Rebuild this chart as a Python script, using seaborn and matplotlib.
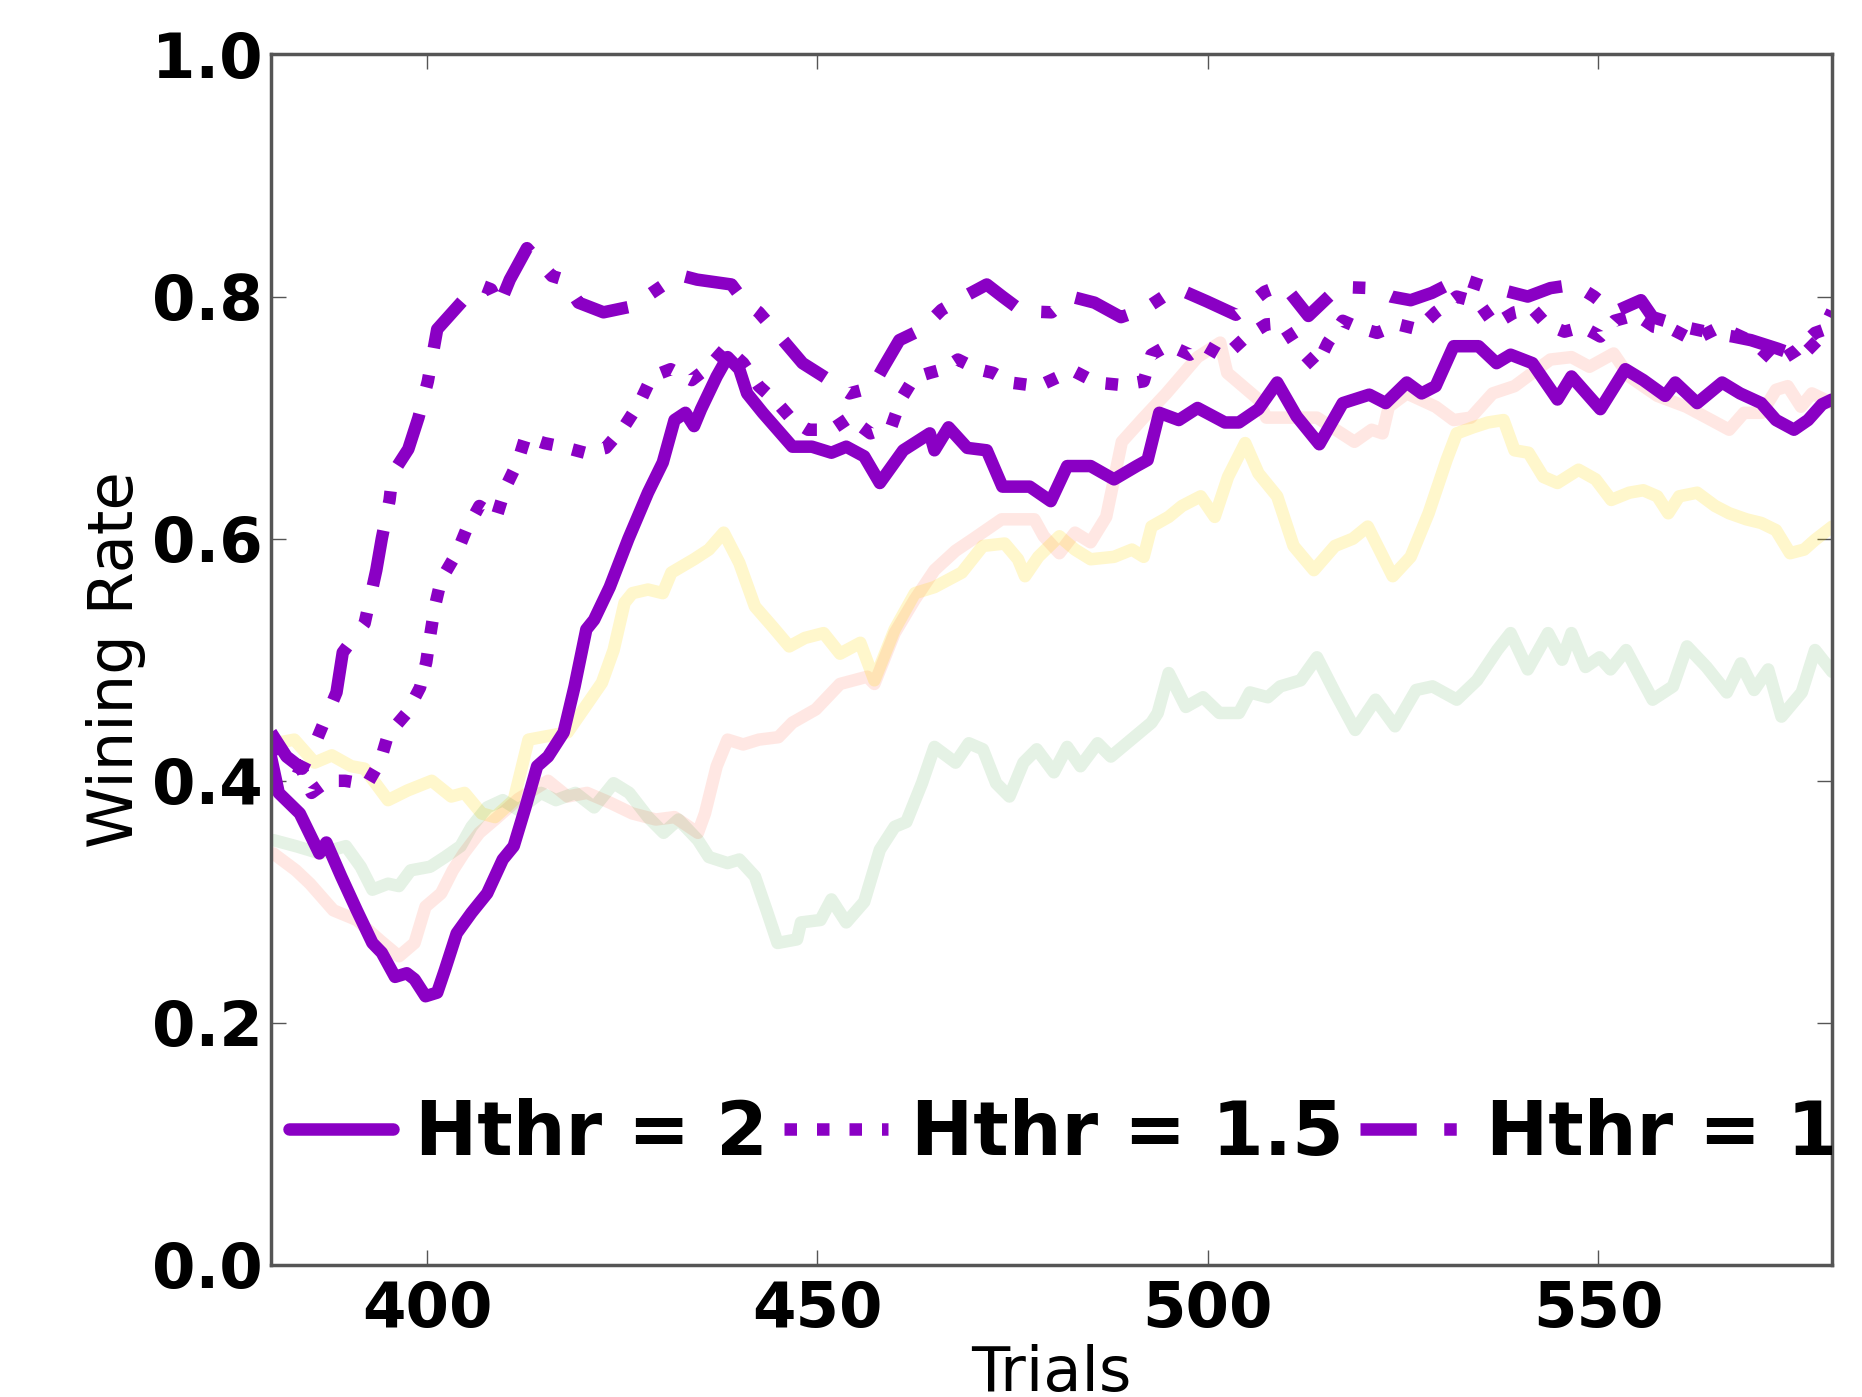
import matplotlib
matplotlib.use("Agg")
import matplotlib.pyplot as plt
import seaborn as sns

# Hthr = 2 (solid)
trials_h2 = [380, 381, 383.7, 386.2, 387.1, 389, 391, 393, 394.2, 395.9, 397.4, 398.4, 399.8, 401.3,
             402.3, 403.8, 405.7, 407.7, 409.7, 411.1, 412.6, 414.1, 415.5, 417.5, 418.9, 420.4, 421.4,
             423.4, 425.8, 428.3, 430.2, 431.7, 433.1, 434.2, 435.1, 437.1, 438.5, 440, 441, 443, 444.9,
             446.8, 449.3, 451.8, 453.7, 456, 458, 461, 464.4, 465, 466.8, 469.2, 471.7, 473.7, 477.2,
             479.9, 482, 485, 488, 490.9, 492.3, 493.8, 496.3, 498.7, 502.2, 504, 506.5, 508.9, 511.4,
             514.3, 517.3, 520.7, 522.8, 525.5, 527.4, 529.2, 531.5, 534.7, 537, 538.8, 541.6, 544.8,
             546.6, 550.3, 553.5, 555.8, 558.6, 559.9, 562.7, 565.9, 568.2, 570.9, 572.8, 575.1, 576.9,
             578.7, 580]
rate_h2 = [0.42, 0.39, 0.373, 0.34, 0.349, 0.321, 0.293, 0.266, 0.258, 0.238, 0.241, 0.236, 0.222, 0.225,
           0.244, 0.274, 0.291, 0.307, 0.335, 0.346, 0.378, 0.412, 0.42, 0.44, 0.478, 0.525, 0.533,
           0.56, 0.60, 0.638, 0.663, 0.698, 0.704, 0.693, 0.707, 0.734, 0.75, 0.74, 0.72, 0.704, 0.69,
           0.676, 0.676, 0.671, 0.676, 0.668, 0.646, 0.673, 0.687, 0.673, 0.692, 0.675, 0.673, 0.643, 0.643,
           0.631, 0.66, 0.66, 0.649, 0.66, 0.665, 0.704, 0.698, 0.708, 0.696, 0.696, 0.707, 0.729, 0.701,
           0.678, 0.712, 0.719, 0.712, 0.729, 0.72, 0.726, 0.759, 0.759, 0.745, 0.752, 0.745, 0.715,
           0.734, 0.707, 0.74, 0.731, 0.718, 0.729, 0.712, 0.729, 0.72, 0.712, 0.698, 0.69, 0.698,
           0.711, 0.715]

# Hthr = 1.5 (dotted)
trials_h15 = [380, 382, 383.9, 385.2, 387.3, 389.5, 392.3, 394, 395, 397.4, 399.1, 399.9, 400.4, 401,
              401.8, 403.8, 405, 406.7, 408.9, 410.1, 411.6, 412.6, 415, 417.3, 420.2, 422.9, 425.3,
              427.2, 428.8, 431.2, 433.9, 436.1, 438.3, 440.5, 442.5, 444.9, 446.8, 448.8, 451.8, 454.1,
              456.8, 459.5, 460.7, 462.4, 464.4, 466.1, 468, 470.5, 472.5, 474.7, 478.3, 481, 483, 485.7,
              488.9, 491.8, 492.8, 495, 497.7, 499.4, 502.1, 504.8, 507.5, 509.5, 511.4, 513.9, 515.4,
              517.3, 519.1, 521.7, 524.4, 526.9, 529.2, 531.9, 534.7, 536.7, 539.3, 541.6, 543.4, 545.7,
              548, 550.3, 552.1, 554.9, 557.2, 559.5, 562.2, 565, 567.3, 570, 572.8, 575.5, 577.8, 580]
rate_h15 = [0.43, 0.415, 0.41, 0.39, 0.40, 0.40, 0.397, 0.416, 0.438, 0.456, 0.477, 0.498, 0.52, 0.544,
            0.566, 0.588, 0.607, 0.627, 0.618, 0.643, 0.663, 0.684, 0.679, 0.676, 0.671, 0.675, 0.693,
            0.712, 0.734, 0.74, 0.731, 0.742, 0.758, 0.745, 0.726, 0.712, 0.698, 0.69, 0.69, 0.70,
            0.687, 0.693, 0.715, 0.733, 0.737, 0.74, 0.748, 0.74, 0.737, 0.729, 0.726, 0.734, 0.738, 0.729,
            0.727, 0.73, 0.752, 0.76, 0.752, 0.76, 0.75, 0.766, 0.777, 0.778, 0.759, 0.742, 0.762,
            0.78, 0.775, 0.77, 0.777, 0.773, 0.787, 0.80, 0.795, 0.777, 0.787, 0.79, 0.777, 0.771,
            0.775, 0.767, 0.78, 0.785, 0.775, 0.773, 0.764, 0.773, 0.77, 0.762, 0.745, 0.756, 0.77, 0.775]

# Hthr = 1 (dash-dot)
trials_h1 = [380, 382, 384, 386, 388.4, 389.2, 392, 393.5, 394.2, 395.2, 395.6, 397.6, 398.9, 400.1,
             401.3, 404.5, 407, 408.2, 409.2, 410.6, 412.8, 416, 417.5, 419.4, 422.6, 426.3, 432.2,
             434.6, 439, 440.5, 442.5, 445.2, 448.1, 450.8, 454.1, 457, 458.5, 460.5, 463.4, 465.9,
             468.8, 471.7, 473.7, 476.2, 480, 482.5, 485.5, 488.9, 492, 496, 499.9, 503.6, 507.3, 509.7,
             512.9, 516.8, 521, 523.5, 526, 528.7, 532.4, 535.6, 538, 541, 543.9, 547, 549.5, 552,
             555.5, 557, 561, 564.5, 567.3, 569.6, 573, 576, 578.3, 580]
rate_h1 = [0.44, 0.42, 0.41, 0.436, 0.473, 0.506, 0.53, 0.574, 0.60, 0.632, 0.654, 0.674, 0.70, 0.73,
           0.773, 0.796, 0.809, 0.806, 0.792, 0.814, 0.84, 0.817, 0.814, 0.795, 0.787, 0.792, 0.818,
           0.814, 0.81, 0.797, 0.787, 0.767, 0.745, 0.734, 0.72, 0.725, 0.742, 0.764, 0.773, 0.789,
           0.80, 0.81, 0.80, 0.788, 0.787, 0.80, 0.795, 0.783, 0.79, 0.807, 0.796, 0.785, 0.804, 0.81,
           0.784, 0.808, 0.807, 0.80, 0.797, 0.803, 0.815, 0.808, 0.805, 0.80, 0.807, 0.81, 0.80, 0.787,
           0.797, 0.783, 0.775, 0.77, 0.767, 0.764, 0.757, 0.75, 0.765, 0.788]

# faint background runs
trials_red = [380.3, 383.2, 385, 388, 391, 394, 396.4, 398.4, 399.8, 401.8, 403.3, 404.7, 406.7, 408.7,
              411.7, 415.5, 418, 420.5, 423.4, 426.3, 429.3, 431.7, 434.7, 435.6, 437.1, 438.5, 440.5,
              442.5, 445, 446.8, 449.8, 452.9, 456.4, 457.3, 459.9, 462.5, 465, 467.7, 470, 473.6, 477.8,
              479, 481, 483, 485, 487, 489, 491.8, 494.7, 498.7, 501.6, 502.5, 506.5, 507.5, 511, 514,
              518.8, 521, 522.4, 523.2, 525.5, 529.2, 531.5, 533.7, 536.5, 539.3, 541.6, 543.9, 546.6,
              548.9, 552, 554, 557.6, 561.3, 564.5, 566.8, 568.7, 571, 572.8, 574.3, 576, 577.4, 580]
rate_red = [0.34, 0.326, 0.315, 0.293, 0.285, 0.268, 0.255, 0.266, 0.296, 0.307, 0.326, 0.34, 0.357, 0.368,
            0.385, 0.40, 0.387, 0.39, 0.382, 0.373, 0.368, 0.37, 0.357, 0.373, 0.412, 0.434, 0.43,
            0.434, 0.436, 0.448, 0.459, 0.48, 0.486, 0.48, 0.522, 0.55, 0.574, 0.59, 0.60, 0.616, 0.616,
            0.602, 0.588, 0.605, 0.597, 0.618, 0.68, 0.70, 0.72, 0.75, 0.762, 0.737, 0.715, 0.70, 0.70, 0.70,
            0.68, 0.69, 0.687, 0.709, 0.72, 0.709, 0.698, 0.70, 0.72, 0.726, 0.737, 0.748, 0.75,
            0.742, 0.753, 0.734, 0.718, 0.709, 0.698, 0.69, 0.704, 0.704, 0.723, 0.726, 0.709, 0.72, 0.712]

trials_gold = [380.5, 383, 385.6, 387.8, 390.3, 392, 395, 397.5, 400.6, 403.1, 404.8, 407, 408.7, 411.1,
               413, 415.5, 418, 420.9, 422.4, 423.9, 425.3, 426.3, 428.3, 430.2, 431.3, 434.2, 436.1,
               438, 440, 442, 444.3, 446.4, 448.4, 450.8, 452.9, 455.5, 457.3, 459.9, 462.5, 465,
               468.5, 471.2, 474, 475.7, 476.6, 478.3, 481, 483, 485, 488, 490.3, 491.8, 492.8, 495,
               496.7, 499.1, 500.9, 502.6, 504.8, 506.5, 508.9, 511, 513.6, 516.3, 518.6, 520.5, 523.7,
               526, 528.3, 530.6, 531.9, 534, 535.9, 537.9, 539.3, 541.1, 543, 544.8, 547.5, 549.7,
               551.7, 554, 555.8, 557.6, 559, 560.4, 562.7, 565, 566.8, 569, 570.9, 572.8, 574.6,
               576.4, 577.8, 580]
rate_gold = [0.431, 0.434, 0.415, 0.421, 0.412, 0.41, 0.384, 0.392, 0.40, 0.387, 0.39, 0.373, 0.37, 0.384,
             0.434, 0.437, 0.44, 0.467, 0.481, 0.508, 0.547, 0.555, 0.558, 0.555, 0.572, 0.583, 0.591,
             0.605, 0.58, 0.544, 0.527, 0.511, 0.518, 0.522, 0.505, 0.514, 0.483, 0.525, 0.555, 0.56,
             0.572, 0.594, 0.596, 0.583, 0.569, 0.585, 0.602, 0.591, 0.583, 0.585, 0.591, 0.585, 0.61, 0.618,
             0.627, 0.635, 0.618, 0.651, 0.679, 0.654, 0.635, 0.594, 0.574, 0.594, 0.60, 0.61, 0.569,
             0.585, 0.621, 0.665, 0.687, 0.692, 0.696, 0.698, 0.673, 0.671, 0.651, 0.646, 0.657, 0.649,
             0.632, 0.638, 0.64, 0.635, 0.621, 0.635, 0.638, 0.627, 0.621, 0.616, 0.613, 0.607, 0.588,
             0.591, 0.599, 0.61]

trials_green = [380.3, 383.2, 386.3, 389.6, 391.5, 393, 395, 396.4, 397.9, 400.4, 402.3, 404.3, 405.7,
                407.7, 409.7, 411.7, 414.6, 416.5, 419, 421.4, 423.9, 425.9, 428.3, 430.3, 432.2, 434.7,
                436.1, 438.5, 440, 442, 443.5, 444.9, 447.4, 447.9, 450.4, 451.8, 453.7, 456, 458, 459.9,
                461.4, 463.4, 465, 467.7, 469.4, 471.2, 472.9, 474.6, 476.4, 478.1, 480.3, 482, 483.7,
                485.9, 487.6, 490.2, 492.8, 493.6, 495, 497.2, 499.4, 501.5, 504, 505.4, 507.7, 509.3,
                511.9, 514, 516.3, 518.9, 521.5, 524, 526.7, 528.8, 531.9, 534.5, 537.1, 538.8, 541,
                543.6, 545.4, 546.6, 548.4, 550.2, 551.6, 553.6, 557, 559.6, 561.4, 563.9, 566.5, 568.3,
                570, 571.8, 573.5, 576.1, 577.8, 580]
rate_green = [0.351, 0.346, 0.34, 0.346, 0.329, 0.31, 0.315, 0.313, 0.326, 0.329, 0.337, 0.346, 0.362,
              0.378, 0.384, 0.376, 0.39, 0.384, 0.39, 0.378, 0.398, 0.39, 0.37, 0.357, 0.368, 0.351,
              0.337, 0.332, 0.335, 0.321, 0.293, 0.266, 0.269, 0.283, 0.285, 0.302, 0.283, 0.30, 0.343, 0.362,
              0.366, 0.398, 0.428, 0.415, 0.431, 0.426, 0.398, 0.387, 0.415, 0.426, 0.407, 0.428, 0.412,
              0.431, 0.42, 0.434, 0.448, 0.456, 0.489, 0.461, 0.469, 0.456, 0.456, 0.473, 0.469, 0.478,
              0.483, 0.502, 0.473, 0.442, 0.467, 0.445, 0.475, 0.478, 0.467, 0.483, 0.508, 0.522, 0.492,
              0.522, 0.50, 0.522, 0.494, 0.502, 0.492, 0.508, 0.467, 0.478, 0.511, 0.494, 0.473, 0.497,
              0.475, 0.492, 0.453, 0.473, 0.508, 0.49]

labels = ['Hthr = 2', 'Hthr = 1.5', 'Hthr = 1']
xticks = [400, 450, 500, 550]
yticks = [0.0, 0.2, 0.4, 0.6, 0.8, 1.0]

PURPLE = '#8a00c4'
LW = 9

sns.set_style('white')
plt.rcParams['font.family'] = ['DejaVu Sans']
plt.rcParams['text.color'] = 'black'
plt.rcParams['axes.labelcolor'] = 'black'

fig, ax = plt.subplots(figsize=(18.62, 13.97), dpi=100)
fig.subplots_adjust(left=0.1455, right=0.984, top=0.961, bottom=0.0945)

# faint background curves
sns.lineplot(x=trials_red, y=rate_red, ax=ax, color='tomato', alpha=0.15, linewidth=LW, estimator=None)
sns.lineplot(x=trials_gold, y=rate_gold, ax=ax, color='gold', alpha=0.2, linewidth=LW, estimator=None)
sns.lineplot(x=trials_green, y=rate_green, ax=ax, color='green', alpha=0.1, linewidth=LW, estimator=None)

# purple curves
sns.lineplot(x=trials_h2, y=rate_h2, ax=ax, color=PURPLE, linewidth=LW, estimator=None)
l_h2 = ax.lines[-1]
sns.lineplot(x=trials_h15, y=rate_h15, ax=ax, color=PURPLE, linewidth=LW, estimator=None)
l_h15 = ax.lines[-1]
l_h15.set_dashes([1, 1.6])
sns.lineplot(x=trials_h1, y=rate_h1, ax=ax, color=PURPLE, linewidth=LW, estimator=None)
l_h1 = ax.lines[-1]
l_h1.set_dashes([4.5, 2.2, 1, 2.2])

ax.set_xlim(380, 580)
ax.set_ylim(0, 1)
ax.set_xticks(xticks)
ax.set_yticks(yticks)
ax.set_yticklabels([f'{v:.1f}' for v in yticks])

for s in ax.spines.values():
    s.set_color('#555555')
    s.set_linewidth(2.5)

ax.tick_params(axis='both', direction='in', length=11, width=1, color='#555555', labelcolor='black',
               top=True, right=True, bottom=True, left=True, labelsize=45)
ax.tick_params(axis='x', pad=11)
ax.tick_params(axis='y', pad=6)
for t in ax.get_xticklabels() + ax.get_yticklabels():
    t.set_fontweight('bold')

ax.set_xlabel('Trials', fontsize=45, labelpad=3)
ax.set_ylabel('Wining Rate', fontsize=45, labelpad=4)

leg = ax.legend([l_h2, l_h15, l_h1], labels, loc='center left', bbox_to_anchor=(0.0115, 0.108),
                ncol=3, frameon=False, prop={'weight': 'bold', 'size': 53.5},
                handlelength=1.4, handletextpad=0.3, columnspacing=0.22,
                borderpad=0, borderaxespad=0)
for t in leg.get_texts():
    t.set_clip_box(ax.bbox)
    t.set_clip_on(True)

fig.savefig('out.png', dpi=100)
